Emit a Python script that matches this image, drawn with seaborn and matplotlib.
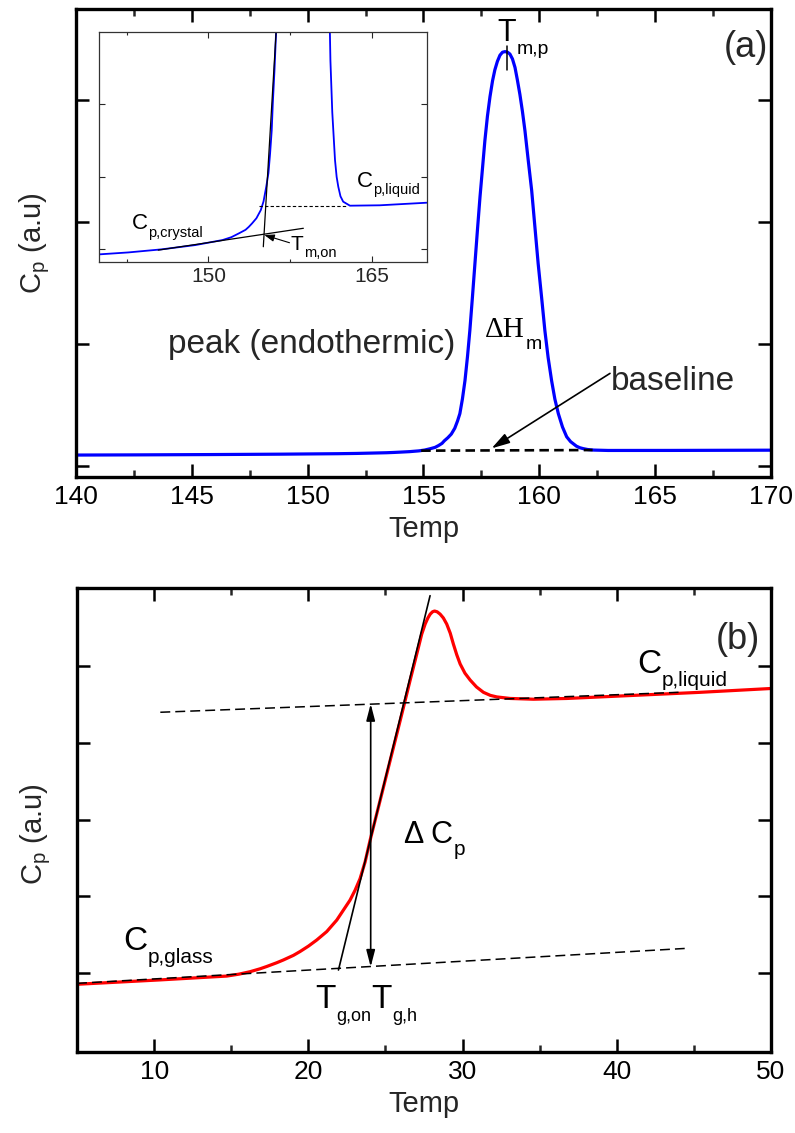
import numpy as np
import pandas as pd
import matplotlib
matplotlib.use("Agg")
import matplotlib.pyplot as plt
from matplotlib.ticker import MultipleLocator
import seaborn as sns

# ---------------- data ----------------
# panel (a): melting peak (temperature, Cp in a.u.)
temp_a = [140.0, 142.66, 145.73, 148.8, 151.3, 152.1, 152.8, 153.4, 153.7, 154.0,
          154.4, 154.8, 155.05, 155.3, 155.5, 155.65, 155.8, 155.9, 156.05, 156.2,
          156.35, 156.47, 156.57, 156.68, 156.79, 156.9, 157.0, 157.11, 157.22, 157.33,
          157.44, 157.55, 157.65, 157.76, 157.87, 157.98, 158.08, 158.19, 158.3, 158.41,
          158.52, 158.63, 158.73, 158.84, 158.95, 159.05, 159.16, 159.27, 159.38, 159.52,
          159.67, 159.81, 159.95, 160.1, 160.24, 160.38, 160.53, 160.67, 160.82, 161.0,
          161.18, 161.35, 161.6, 161.75, 161.9, 162.1, 162.35, 162.97, 165.7, 170.0]
cp_a = [0.090, 0.0915, 0.0939, 0.0972, 0.1011, 0.1033, 0.1063, 0.109, 0.1113, 0.114,
        0.118, 0.1243, 0.131, 0.1424, 0.153, 0.168, 0.186, 0.207, 0.232, 0.262,
        0.31, 0.37, 0.43, 0.55, 0.70, 0.90, 1.11, 1.38, 1.66, 1.94,
        2.21, 2.45, 2.67, 2.87, 3.03, 3.16, 3.25, 3.32, 3.37, 3.395,
        3.40, 3.395, 3.38, 3.34, 3.27, 3.17, 3.05, 2.91, 2.75, 2.51,
        2.26, 1.96, 1.66, 1.38, 1.11, 0.89, 0.70, 0.55, 0.43, 0.32,
        0.24, 0.20, 0.163, 0.150, 0.1424, 0.135, 0.1308, 0.1277, 0.128, 0.130]

# panel (b): glass transition (temperature, Cp in a.u.)
temp_b = [5.0, 10.38, 14.71, 15.5, 16.22, 16.87, 17.3, 17.95, 18.38, 19.03,
          19.46, 20.0, 20.54, 21.19, 21.84, 22.27, 22.7, 23.03, 23.35, 23.68,
          24.0, 24.65, 25.3, 25.95, 26.6, 27.14, 27.35, 27.57, 27.75, 27.9,
          28.05, 28.18, 28.35, 28.54, 28.75, 28.97, 29.2, 29.4, 29.62, 29.84,
          30.15, 30.49, 30.9, 31.35, 31.8, 32.22, 33.08, 34.59, 36.76, 41.08,
          45.4, 50.0]
cp_b = [-0.147, -0.09, -0.04, -0.015, 0.017, 0.055, 0.085, 0.134, 0.17, 0.23,
        0.28, 0.35, 0.43, 0.54, 0.69, 0.82, 0.95, 1.08, 1.23, 1.45,
        1.73, 2.25, 2.77, 3.29, 3.82, 4.25, 4.42, 4.55, 4.63, 4.68,
        4.71, 4.72, 4.71, 4.68, 4.63, 4.55, 4.43, 4.29, 4.15, 4.03,
        3.91, 3.82, 3.73, 3.66, 3.62, 3.60, 3.58, 3.57, 3.58, 3.62,
        3.66, 3.71]

# construction lines (endpoints)
baseline_a_T = [154.9, 162.3]
baseline_a_cp = [0.126, 0.131]
inset_level_T = [154.66, 162.67]
inset_level_cp = [0.1277, 0.1277]
inset_tangent_T = [155.03, 156.2]
inset_tangent_cp = [0.0959, 0.262]
inset_crystal_T = [145.4, 158.7]
inset_crystal_cp = [0.0933, 0.1102]
peak_mark_T = [158.6, 158.6]
peak_mark_cp = [3.45, 3.25]

liquid_line_T = [10.4, 44.0]
liquid_line_cp = [3.40, 3.66]
glass_line_T = [5.0, 44.4]
glass_line_cp = [-0.135, 0.32]
tangent_b_T = [21.95, 27.89]
tangent_b_cp = [0.039, 4.92]
dcp_T = 24.04
dcp_low, dcp_high = 0.08, 3.51

xticks_a = [140, 145, 150, 155, 160, 165, 170]
xticks_b = [10, 20, 30, 40, 50]

# ---------------- style ----------------
sns.set_style("ticks")
plt.rcParams["font.family"] = ["Liberation Sans", "DejaVu Sans"]
plt.rcParams["mathtext.default"] = "regular"

fig = plt.figure(figsize=(7.95, 11.33), dpi=100)
axA = fig.add_axes([0.0956, 0.5790, 0.8742, 0.4131])
axB = fig.add_axes([0.0969, 0.0715, 0.8730, 0.4095])
axI = fig.add_axes([0.1249, 0.7690, 0.4118, 0.2025])

BLUE = "#0000ff"
RED = "#ff0000"


def sub_text(ax, x, y, main, sub, size, subsize, dy, dx=0.5, main_family=None, **kw):
    fam = main_family if main_family else plt.rcParams["font.family"]
    t = ax.text(x, y, main, fontsize=size, ha="left", va="baseline", family=fam,
                color="black", **kw)
    ax.annotate(sub, xy=(1, 0), xycoords=t, xytext=(dx, dy),
                textcoords="offset points", fontsize=subsize, ha="left",
                va="baseline", color="black")
    return t


def style_main(ax):
    for s in ax.spines.values():
        s.set_linewidth(2.4)
        s.set_color("black")
        s.set_visible(True)
    ax.tick_params(which="major", direction="in", length=9.5, width=1.8,
                   top=True, right=True, labelsize=19, pad=6, colors="black")
    ax.tick_params(which="minor", direction="in", length=5, width=1.8,
                   top=True, right=True)
    ax.tick_params(axis="y", which="both", labelleft=False)
    ax.grid(False)


# ---------------- panel (a) ----------------
df_a = pd.DataFrame({"Temp": temp_a, "Cp": cp_a})
sns.lineplot(data=df_a, x="Temp", y="Cp", ax=axA, color=BLUE, lw=2.3, sort=False)
axA.plot(baseline_a_T, baseline_a_cp, color="black", lw=1.9, ls=(0, (3.6, 2.0)))
axA.plot(peak_mark_T, peak_mark_cp, color="black", lw=1.1)
axA.set_xlim(140, 170)
axA.set_ylim(-0.09, 3.75)
axA.set_xticks(xticks_a)
axA.xaxis.set_minor_locator(MultipleLocator(2.5))
axA.set_yticks([0, 1, 2, 3])
style_main(axA)
axA.set_xlabel("Temp", fontsize=21, labelpad=4)
axA.set_ylabel(r"C$_p$ (a.u)", fontsize=21)
axA.yaxis.set_label_coords(-0.035, 0.5)

axA.text(150.17, 0.926, "peak (endothermic)", fontsize=24, ha="center", va="baseline")
sub_text(axA, 157.65, 1.057, "\u0394H", "m", 21, 14, dy=-4.0,
         main_family=["Liberation Serif", "DejaVu Serif"])
sub_text(axA, 158.21, 3.49, "T", "m,p", 22, 14, dy=-4.5)
axA.text(163.1, 0.62, "baseline", fontsize=24, ha="left", va="baseline")
axA.annotate("", xy=(157.94, 0.145), xytext=(163.05, 0.76),
             arrowprops=dict(arrowstyle="-|>,head_length=0.55,head_width=0.16",
                             color="black", lw=1.2, mutation_scale=20,
                             shrinkA=0, shrinkB=0))
axA.text(0.964, 0.917, "(a)", transform=axA.transAxes, fontsize=26,
         ha="center", va="center")

# ---------------- inset ----------------
axI.set_facecolor("white")
sns.lineplot(data=df_a, x="Temp", y="Cp", ax=axI, color=BLUE, lw=1.3, sort=False)
axI.plot(inset_level_T, inset_level_cp, color="black", lw=0.8, ls=(0, (3, 2)))
axI.plot(inset_tangent_T, inset_tangent_cp, color="black", lw=0.9)
axI.plot(inset_crystal_T, inset_crystal_cp, color="black", lw=0.9)
axI.annotate("", xy=(155.12, 0.105), xytext=(157.43, 0.099),
             arrowprops=dict(arrowstyle="-|>,head_length=0.5,head_width=0.18",
                             color="black", lw=0.8, mutation_scale=12,
                             shrinkA=0, shrinkB=0))
axI.set_xlim(140, 170)
axI.set_ylim(0.0843, 0.262)
axI.xaxis.set_major_locator(MultipleLocator(15))
axI.xaxis.set_minor_locator(MultipleLocator(7.5))
axI.set_yticks([0.0939, 0.1502, 0.2063])
for s in axI.spines.values():
    s.set_linewidth(0.9)
    s.set_color("#333333")
axI.tick_params(which="major", direction="in", length=4, width=0.8, top=True,
                right=True, labelsize=15, pad=4)
axI.tick_params(which="minor", direction="in", length=2.5, width=0.8, top=True,
                right=True)
axI.tick_params(axis="y", which="both", labelleft=False)
axI.set_xlabel("")
axI.set_ylabel("")
axI.grid(False)
sub_text(axI, 142.96, 0.1094, "C", "p,crystal", 16, 10.5, dy=-2.0)
sub_text(axI, 163.59, 0.1424, "C", "p,liquid", 16, 10.5, dy=-2.0)
sub_text(axI, 157.55, 0.0933, "T", "m,on", 15, 10.5, dy=-1.8)

# ---------------- panel (b) ----------------
df_b = pd.DataFrame({"Temp": temp_b, "Cp": cp_b})
sns.lineplot(data=df_b, x="Temp", y="Cp", ax=axB, color=RED, lw=2.3, sort=False)
axB.plot(liquid_line_T, liquid_line_cp, color="black", lw=1.1, ls=(0, (6.5, 3.3)))
axB.plot(glass_line_T, glass_line_cp, color="black", lw=1.1, ls=(0, (6.5, 3.3)))
axB.plot(tangent_b_T, tangent_b_cp, color="black", lw=1.2)
axB.annotate("", xy=(dcp_T, dcp_high), xytext=(dcp_T, dcp_low),
             arrowprops=dict(arrowstyle="<|-|>,head_length=0.5,head_width=0.13",
                             color="black", lw=1.2, mutation_scale=20,
                             shrinkA=0, shrinkB=0))
axB.set_xlim(5, 50)
axB.set_ylim(-1.03, 5.02)
axB.set_xticks(xticks_b)
axB.xaxis.set_minor_locator(MultipleLocator(5))
axB.set_yticks([0, 1, 2, 3, 4])
style_main(axB)
axB.set_xlabel("Temp", fontsize=21, labelpad=4)
axB.set_ylabel(r"C$_p$ (a.u)", fontsize=21)
axB.yaxis.set_label_coords(-0.035, 0.47)

sub_text(axB, 41.32, 3.91, "C", "p,liquid", 24, 15, dy=-4.3)
sub_text(axB, 7.98, 0.30, "C", "p,glass", 24, 15, dy=-4.3)
sub_text(axB, 26.2, 1.69, "\u0394 C", "p", 22, 15, dy=-3.5)
sub_text(axB, 20.45, -0.456, "T", "g,on", 24, 13, dy=-4.3, dx=0.2)
sub_text(axB, 24.1, -0.456, "T", "g,h", 24, 13, dy=-4.3, dx=0.2)
axB.text(0.952, 0.888, "(b)", transform=axB.transAxes, fontsize=26,
         ha="center", va="center")

fig.savefig("out.png", dpi=100, facecolor="white")
